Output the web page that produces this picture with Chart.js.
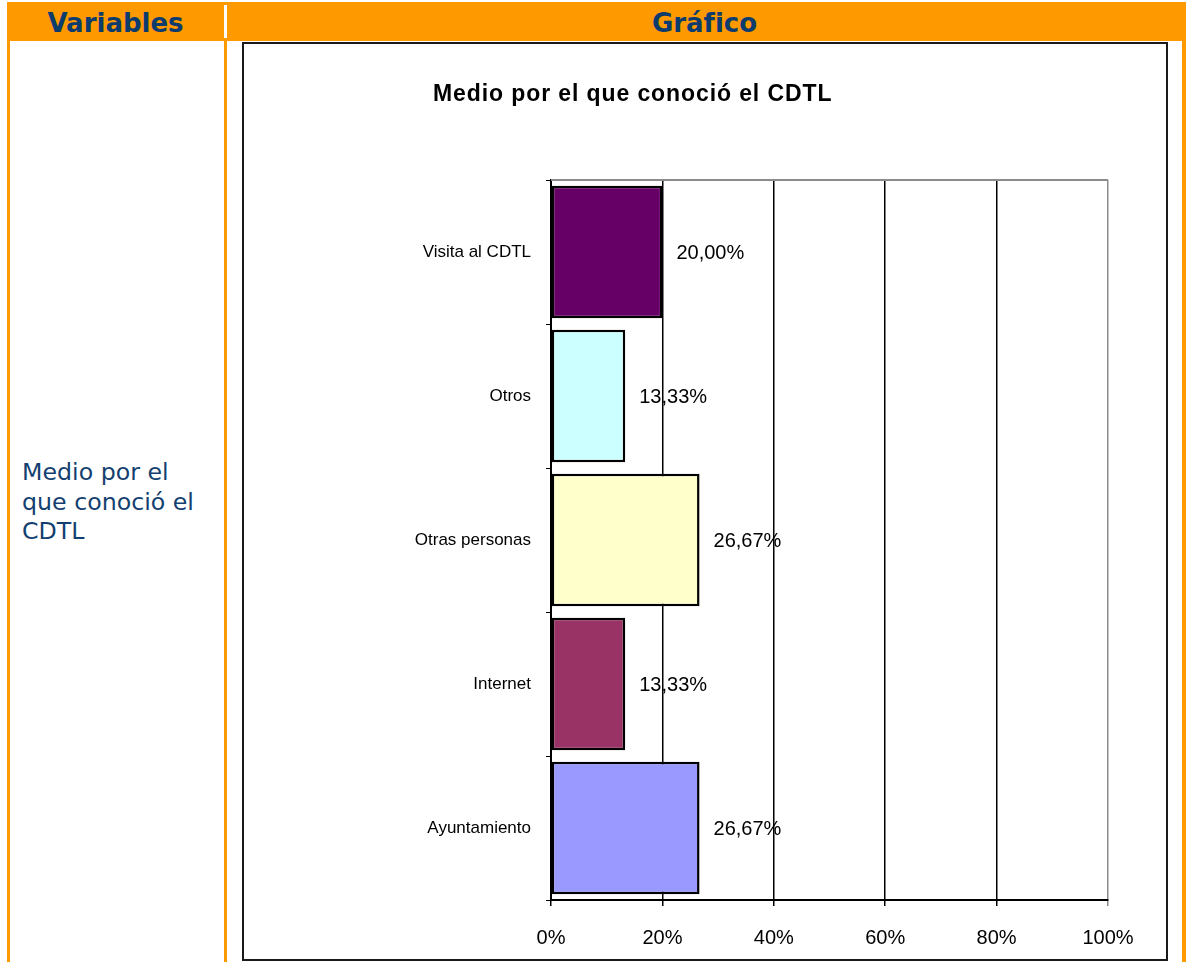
<!DOCTYPE html>
<html lang="es">
<head>
  <meta charset="UTF-8">
  <title>Medio por el que conoció el CDTL</title>
  <style>
    body { margin: 0; background: #fff; width: 1186px; height: 962px; position: relative; overflow: hidden; }
    .orange { position: absolute; background: #ff9900; }
    .head { position: absolute; top: 4px; height: 39px; line-height: 39px; text-align: center;
            font-family: 'DejaVu Sans', Verdana, sans-serif; font-weight: bold; font-size: 26px; color: #0c3b6d; }
    .var-text { position: absolute; left: 22px; top: 458px; width: 200px;
                font-family: 'DejaVu Sans', Verdana, sans-serif; font-size: 23.7px; line-height: 29.5px; color: #133f70; }
    .chart-box { position: absolute; left: 242px; top: 42px; width: 922px; height: 915px; border: 2px solid #1a1a1a; }
    .chart-title { position: absolute; left: 189px; top: 37px; white-space: nowrap;
                   font-family: 'Liberation Sans', Arial, sans-serif; font-weight: bold; font-size: 23px;
                   letter-spacing: 0.9px; line-height: 24px; color: #000; }
    canvas { position: absolute; left: 0; top: 0; }
  </style>
</head>
<body>
  <div class="orange" style="left:7px;top:2px;width:1179px;height:39px;"></div>
  <div style="position:absolute;left:224px;top:5px;width:3px;height:33px;background:#fff;"></div>
  <div class="orange" style="left:7px;top:41px;width:3px;height:921px;"></div>
  <div class="orange" style="left:224px;top:41px;width:3px;height:921px;"></div>
  <div class="orange" style="left:1182px;top:41px;width:4px;height:921px;"></div>
  <div class="head" style="left:7px;width:217px;">Variables</div>
  <div class="head" style="left:227px;width:955px;">Gráfico</div>

  <div class="var-text">Medio por el<br>que conoció el<br>CDTL</div>

  <div class="chart-box">
    <canvas id="chart" width="922" height="915"></canvas>
    <div class="chart-title">Medio por el que conoció el CDTL</div>
  </div>

  <script src="https://cdn.jsdelivr.net/npm/chart.js"></script>
  <script>
    const categories = ['Visita al CDTL', 'Otros', 'Otras personas', 'Internet', 'Ayuntamiento'];
    const percentages = [20.00, 13.33, 26.67, 13.33, 26.67];
    const axisMax = 100;
    const axisStep = 20;

    const barColors = ['#660066', '#ccffff', '#ffffcc', '#993366', '#9999ff'];
    const chartFont = "'Liberation Sans', Arial, sans-serif";

    // etiquetas de valor a la derecha de cada barra
    const valueLabels = {
      id: 'valueLabels',
      afterDatasetsDraw(chart) {
        const ctx = chart.ctx;
        const meta = chart.getDatasetMeta(0);
        ctx.save();
        ctx.font = '20px ' + chartFont;
        ctx.fillStyle = '#000';
        ctx.textAlign = 'left';
        ctx.textBaseline = 'middle';
        meta.data.forEach((bar, i) => {
          const txt = percentages[i].toFixed(2).replace('.', ',') + '%';
          ctx.fillText(txt, bar.x + 14, bar.y + 1);
        });
        ctx.restore();
      }
    };

    // borde superior gris del área de trazado
    const plotBorder = {
      id: 'plotBorder',
      beforeDatasetsDraw(chart) {
        const { ctx, chartArea } = chart;
        ctx.save();
        ctx.strokeStyle = '#8c8c8c';
        ctx.lineWidth = 2;
        ctx.beginPath();
        ctx.moveTo(chartArea.left, chartArea.top);
        ctx.lineTo(chartArea.right, chartArea.top);
        ctx.stroke();
        ctx.restore();
      }
    };

    new Chart(document.getElementById('chart'), {
      type: 'bar',
      data: {
        labels: categories,
        datasets: [{
          data: percentages,
          backgroundColor: barColors,
          borderColor: '#000',
          borderWidth: 2.5,
          borderSkipped: false,
          barPercentage: 0.92,
          categoryPercentage: 1
        }]
      },
      options: {
        indexAxis: 'y',
        responsive: false,
        animation: false,
        layout: { padding: { top: 136, right: 58, left: 0, bottom: 0 } },
        plugins: {
          legend: { display: false },
          tooltip: { enabled: false }
        },
        scales: {
          x: {
            min: 0,
            max: axisMax,
            ticks: {
              stepSize: axisStep,
              color: '#000',
              padding: 20,
              font: { size: 20, family: chartFont },
              callback: (v) => v + '%'
            },
            grid: {
              color: (c) => c.tick && c.tick.value === axisMax ? '#8c8c8c' : '#000',
              lineWidth: 1.5,
              tickLength: 6
            },
            border: { color: '#000', width: 2 },
            afterFit: (scale) => { scale.height = 59; }
          },
          y: {
            offset: true,
            ticks: {
              color: '#000',
              padding: 15,
              font: { size: 17, family: chartFont }
            },
            grid: {
              offset: true,
              drawOnChartArea: false,
              color: '#000',
              tickLength: 5
            },
            border: { color: '#000', width: 2 },
            afterFit: (scale) => { scale.width = 307; }
          }
        }
      },
      plugins: [plotBorder, valueLabels]
    });
  </script>
</body>
</html>
